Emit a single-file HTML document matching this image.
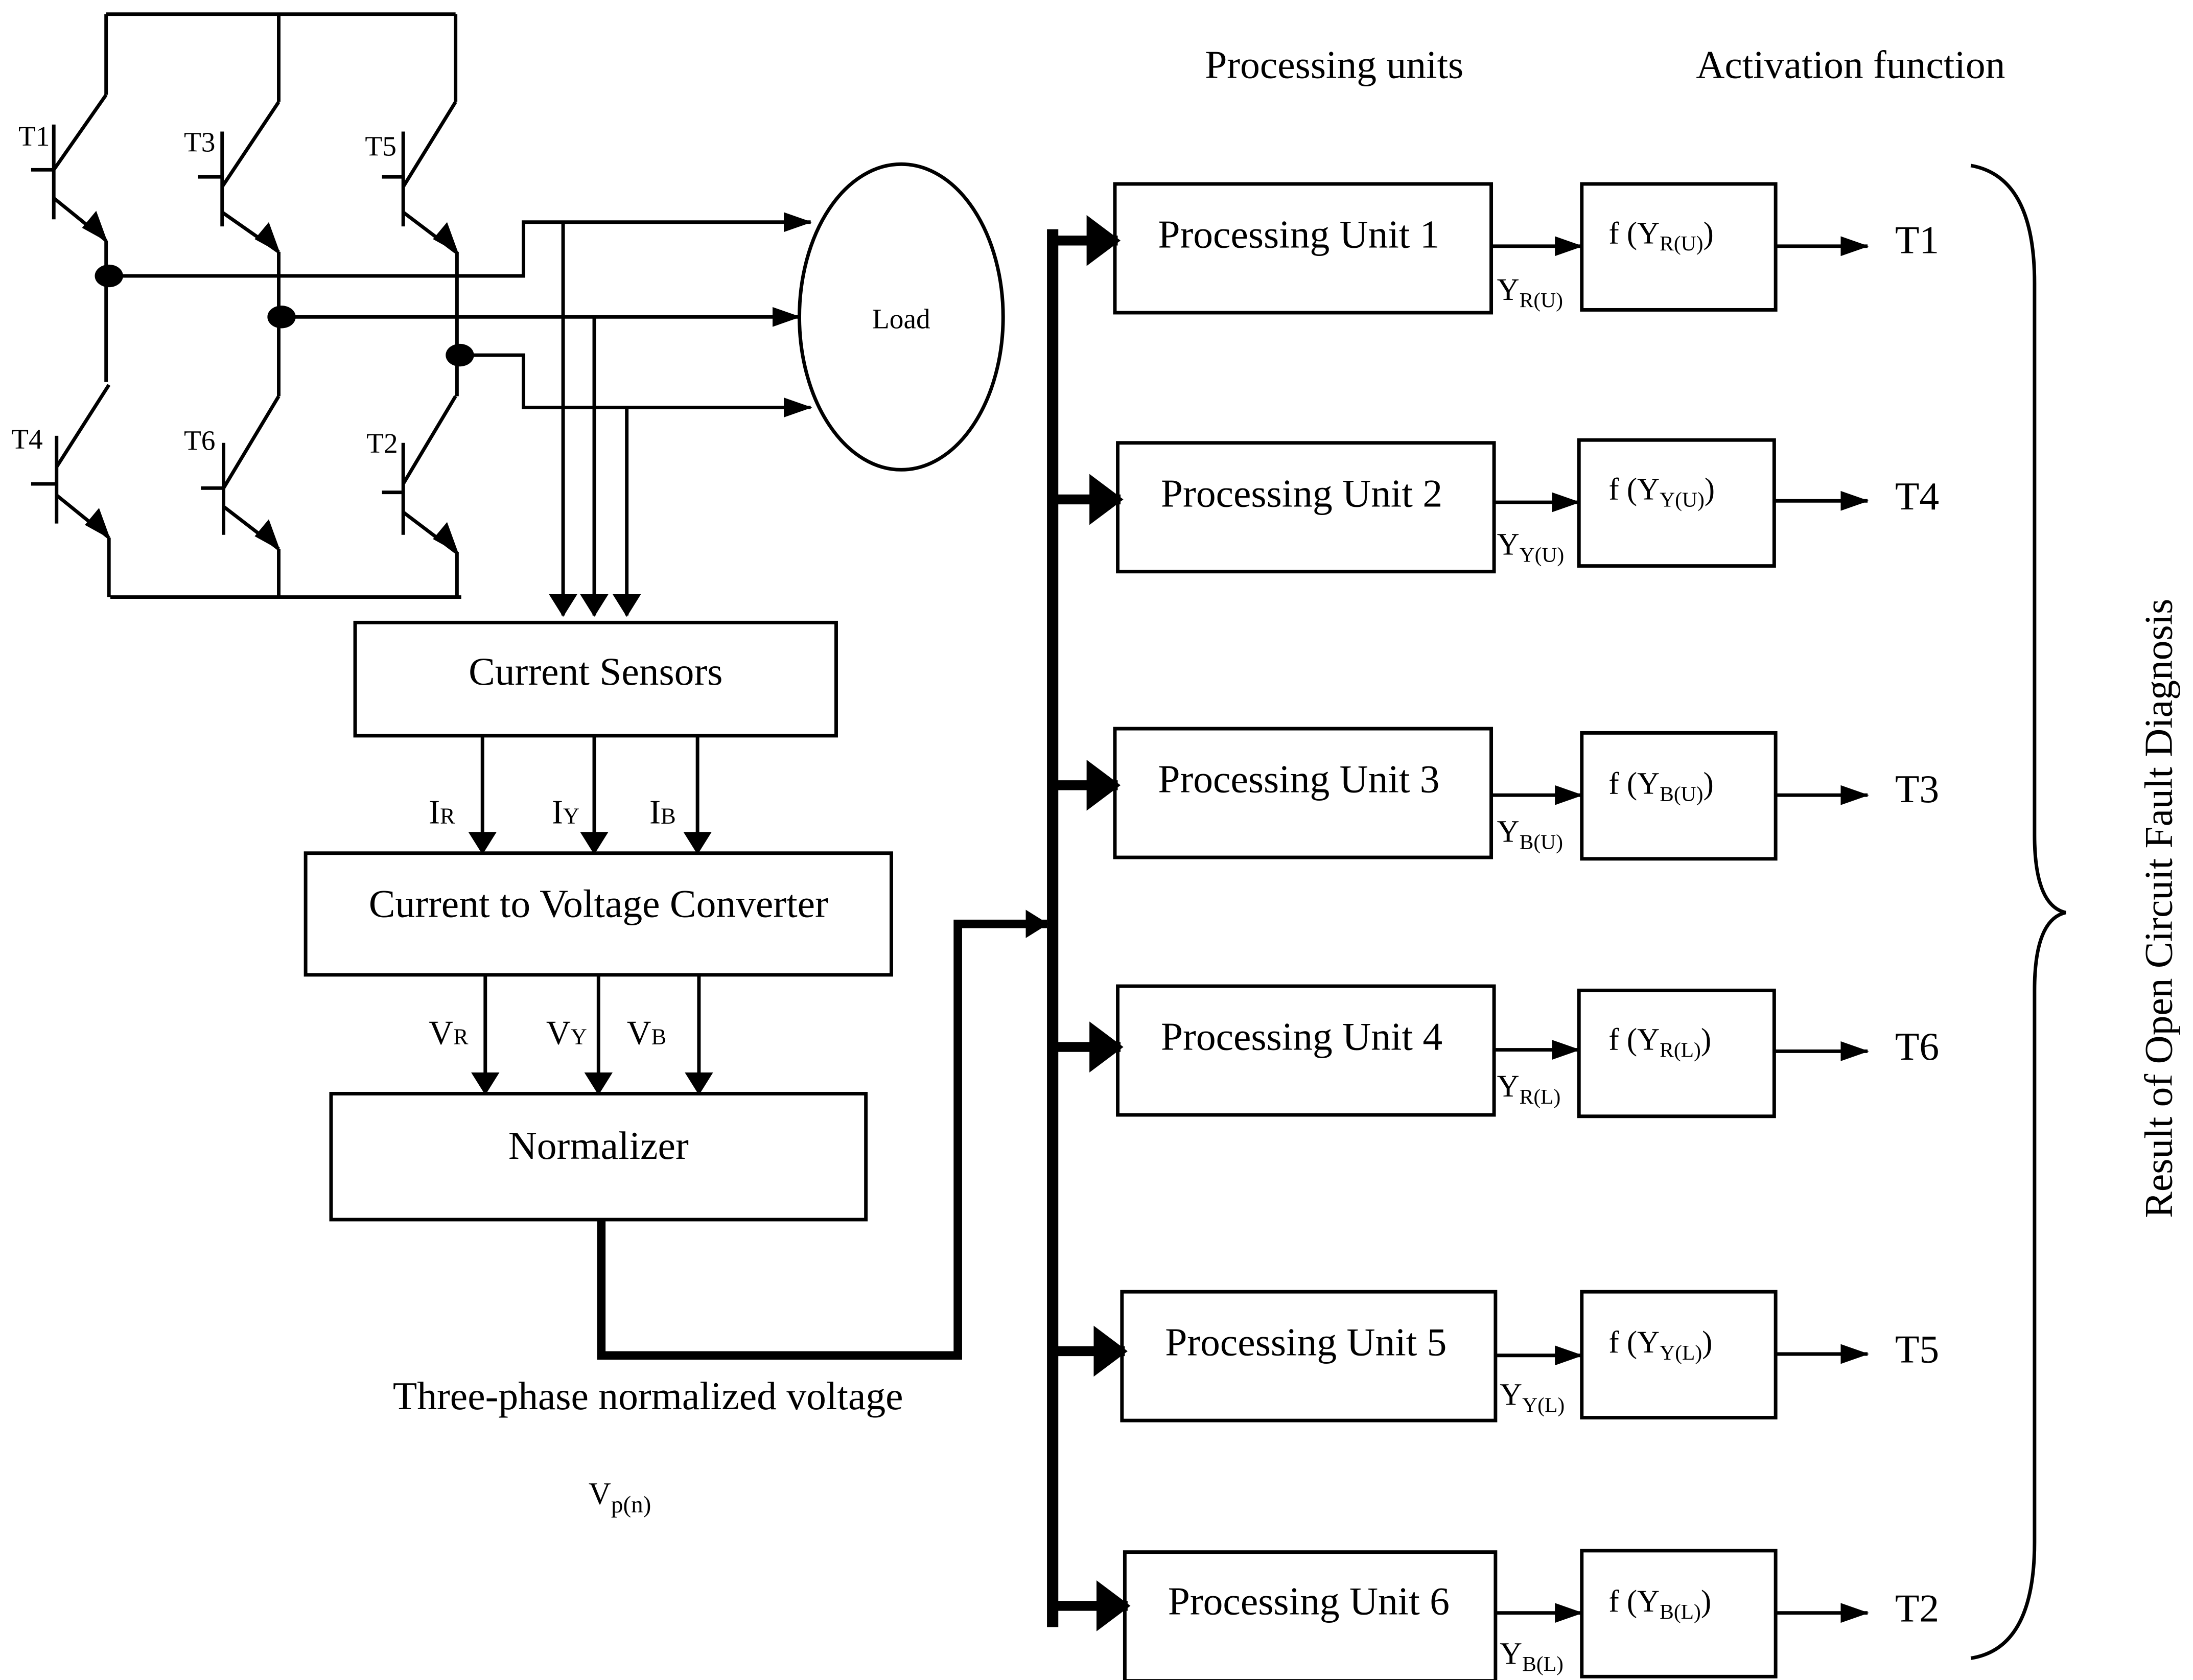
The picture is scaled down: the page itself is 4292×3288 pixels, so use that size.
<!DOCTYPE html>
<html><head><meta charset="utf-8"><style>
html,body{margin:0;padding:0;background:#fff;}
svg{display:block;}
text{font-family:"Liberation Serif",serif;fill:#000;}
</style></head><body>
<svg width="4292" height="3288" viewBox="0 0 1550 1187.4" xmlns="http://www.w3.org/2000/svg">
<defs>
<marker id="b" markerWidth="20" markerHeight="14" refX="19" refY="7" orient="auto" markerUnits="userSpaceOnUse" viewBox="0 0 20 14"><path d="M0,0 L20,7 L0,14 z" fill="#000"/></marker>
<marker id="c" markerWidth="24" markerHeight="36" refX="22" refY="18" orient="auto" markerUnits="userSpaceOnUse" viewBox="0 0 24 36"><path d="M0,0 L24,18 L0,36 z" fill="#000"/></marker>
<marker id="d" markerWidth="16" markerHeight="20" refX="15" refY="10" orient="auto" markerUnits="userSpaceOnUse" viewBox="0 0 16 20"><path d="M0,0 L16,10 L0,20 z" fill="#000"/></marker>
</defs>
<g stroke="#000" stroke-width="2.5" fill="none">
<path d="M75,10 H322 M75,10 V67 M197,10 V72 M322,10 V72"/>
<path d="M78,422 H326"/>
<path d="M38,88 V155 M22,120 H38 M38,120 L75,67 M38,140 L75,170" />
<path d="M75,170 V270"/>
<path d="M40,308 V370 M22,342 H40 M40,330 L77,272 M40,350 L77,380 M77,380 V422"/>
<path d="M157,93 V160 M140,125 H157 M157,132 L197,72 M157,150 L197,178 M197,178 V280"/>
<path d="M158,313 V378 M142,345 H158 M158,345 L197,280 M158,358 L197,388 M197,388 V422"/>
<path d="M285,93 V160 M270,125 H285 M285,132 L322,72 M285,150 L322,178 M323,178 V280"/>
<path d="M285,313 V378 M270,348 H285 M285,342 L322,280 M285,362 L322,390 M323,390 V422"/>
<path d="M76,195 H370 V157 H573" marker-end="url(#b)"/>
<path d="M199,224 H565" marker-end="url(#b)"/>
<path d="M325,251 H370 V288 H573" marker-end="url(#b)"/>
<path d="M398,157 V435" marker-end="url(#d)"/>
<path d="M420,224 V435" marker-end="url(#d)"/>
<path d="M443,288 V435" marker-end="url(#d)"/>
<ellipse cx="637" cy="224" rx="72" ry="108"/>
<rect x="251" y="440" width="340" height="80"/>
<rect x="216" y="603" width="414" height="86"/>
<rect x="234" y="773" width="378" height="89"/>
<path d="M341,520 V603" marker-end="url(#d)"/>
<path d="M420,520 V603" marker-end="url(#d)"/>
<path d="M493,520 V603" marker-end="url(#d)"/>
<path d="M343,689 V773" marker-end="url(#d)"/>
<path d="M423,689 V773" marker-end="url(#d)"/>
<path d="M494,689 V773" marker-end="url(#d)"/>
<path d="M425,862 V958 H677 V653 H740" stroke-width="6" marker-end="url(#d)"/>
<path d="M744,162 V1150" stroke-width="8"/>
<path d="M744,170 H790" stroke-width="7" marker-end="url(#c)"/>
<path d="M744,353 H792" stroke-width="7" marker-end="url(#c)"/>
<path d="M744,555 H790" stroke-width="7" marker-end="url(#c)"/>
<path d="M744,740 H792" stroke-width="7" marker-end="url(#c)"/>
<path d="M744,955 H795" stroke-width="7" marker-end="url(#c)"/>
<path d="M744,1135 H797" stroke-width="7" marker-end="url(#c)"/>
<rect x="788" y="130" width="266" height="91"/>
<rect x="790" y="313" width="266" height="91"/>
<rect x="788" y="515" width="266" height="91"/>
<rect x="790" y="697" width="266" height="91"/>
<rect x="793" y="913" width="264" height="91"/>
<rect x="795" y="1097" width="262" height="91"/>
<rect x="1118" y="130" width="137" height="89"/>
<rect x="1116" y="311" width="138" height="89"/>
<rect x="1118" y="518" width="137" height="89"/>
<rect x="1116" y="700" width="138" height="89"/>
<rect x="1118" y="913" width="137" height="89"/>
<rect x="1118" y="1096" width="137" height="89"/>
<path d="M1054,174 H1118" marker-end="url(#b)"/>
<path d="M1056,355 H1116" marker-end="url(#b)"/>
<path d="M1054,562 H1118" marker-end="url(#b)"/>
<path d="M1056,742 H1116" marker-end="url(#b)"/>
<path d="M1057,958 H1118" marker-end="url(#b)"/>
<path d="M1057,1140 H1118" marker-end="url(#b)"/>
<path d="M1255,174 H1320" marker-end="url(#b)"/>
<path d="M1254,354 H1320" marker-end="url(#b)"/>
<path d="M1255,562 H1320" marker-end="url(#b)"/>
<path d="M1254,743 H1320" marker-end="url(#b)"/>
<path d="M1255,957 H1320" marker-end="url(#b)"/>
<path d="M1255,1140 H1320" marker-end="url(#b)"/>
<path d="M1393,117 Q1438,125 1438,200 V590 Q1438,640 1460,645 Q1438,650 1438,700 V1090 Q1438,1165 1393,1172" stroke-width="2.5"/>
</g>
<g fill="#000">
<path d="M76,171 L58,161 L68,149 z"/>
<path d="M78,381 L60,371 L70,359 z"/>
<path d="M198,179 L180,169 L190,157 z"/>
<path d="M198,389 L180,379 L190,367 z"/>
<path d="M324,179 L306,169 L316,157 z"/>
<path d="M324,391 L306,381 L316,369 z"/>
<ellipse cx="77" cy="195" rx="10" ry="8"/>
<ellipse cx="199" cy="224" rx="10" ry="8"/>
<ellipse cx="325" cy="251" rx="10" ry="8"/>
</g>
<g font-size="20">
<text x="13" y="103">T1</text>
<text x="130" y="107">T3</text>
<text x="258" y="110">T5</text>
<text x="8" y="317">T4</text>
<text x="130" y="318">T6</text>
<text x="259" y="320">T2</text>
</g>
<text x="637" y="232" font-size="20" text-anchor="middle" font-family="Liberation Sans,sans-serif">Load</text>
<g font-size="28" text-anchor="middle">
<text x="421" y="484">Current Sensors</text>
<text x="423" y="648">Current to Voltage Converter</text>
<text x="423" y="819">Normalizer</text>
<text x="458" y="996">Three-phase normalized voltage</text>
<text x="943" y="55">Processing units</text>
<text x="1308" y="55">Activation function</text>
<text x="918" y="175">Processing Unit 1</text>
<text x="920" y="358">Processing Unit 2</text>
<text x="918" y="560">Processing Unit 3</text>
<text x="920" y="742">Processing Unit 4</text>
<text x="923" y="958">Processing Unit 5</text>
<text x="925" y="1141">Processing Unit 6</text>
<text x="1355" y="179">T1</text>
<text x="1355" y="360">T4</text>
<text x="1355" y="567">T3</text>
<text x="1355" y="749">T6</text>
<text x="1355" y="963">T5</text>
<text x="1355" y="1146">T2</text>
<text transform="translate(1535,642) rotate(-90)">Result of Open Circuit Fault Diagnosis</text>
</g>
<g font-size="24">
<text x="303" y="582">I<tspan font-size="16">R</tspan></text>
<text x="390" y="582">I<tspan font-size="16">Y</tspan></text>
<text x="459" y="582">I<tspan font-size="16">B</tspan></text>
<text x="303" y="738">V<tspan font-size="16">R</tspan></text>
<text x="386" y="738">V<tspan font-size="16">Y</tspan></text>
<text x="443" y="738">V<tspan font-size="16">B</tspan></text>
</g>
<text x="416" y="1063" font-size="22" font-family="Liberation Sans,sans-serif">V<tspan font-size="17" dy="6">p(n)</tspan></text>
<g font-size="22">
<text x="1058" y="212">Y<tspan font-size="15" dy="5">R(U)</tspan></text>
<text x="1058" y="392">Y<tspan font-size="15" dy="5">Y(U)</tspan></text>
<text x="1058" y="595">Y<tspan font-size="15" dy="5">B(U)</tspan></text>
<text x="1058" y="775">Y<tspan font-size="15" dy="5">R(L)</tspan></text>
<text x="1060" y="993">Y<tspan font-size="15" dy="5">Y(L)</tspan></text>
<text x="1060" y="1176">Y<tspan font-size="15" dy="5">B(L)</tspan></text>
<text x="1137" y="172">f (Y<tspan font-size="15" dy="5">R(U)</tspan><tspan dy="-5">)</tspan></text>
<text x="1137" y="353">f (Y<tspan font-size="15" dy="5">Y(U)</tspan><tspan dy="-5">)</tspan></text>
<text x="1137" y="561">f (Y<tspan font-size="15" dy="5">B(U)</tspan><tspan dy="-5">)</tspan></text>
<text x="1137" y="742">f (Y<tspan font-size="15" dy="5">R(L)</tspan><tspan dy="-5">)</tspan></text>
<text x="1137" y="956">f (Y<tspan font-size="15" dy="5">Y(L)</tspan><tspan dy="-5">)</tspan></text>
<text x="1137" y="1139">f (Y<tspan font-size="15" dy="5">B(L)</tspan><tspan dy="-5">)</tspan></text>
</g>
</svg>
</body></html>
